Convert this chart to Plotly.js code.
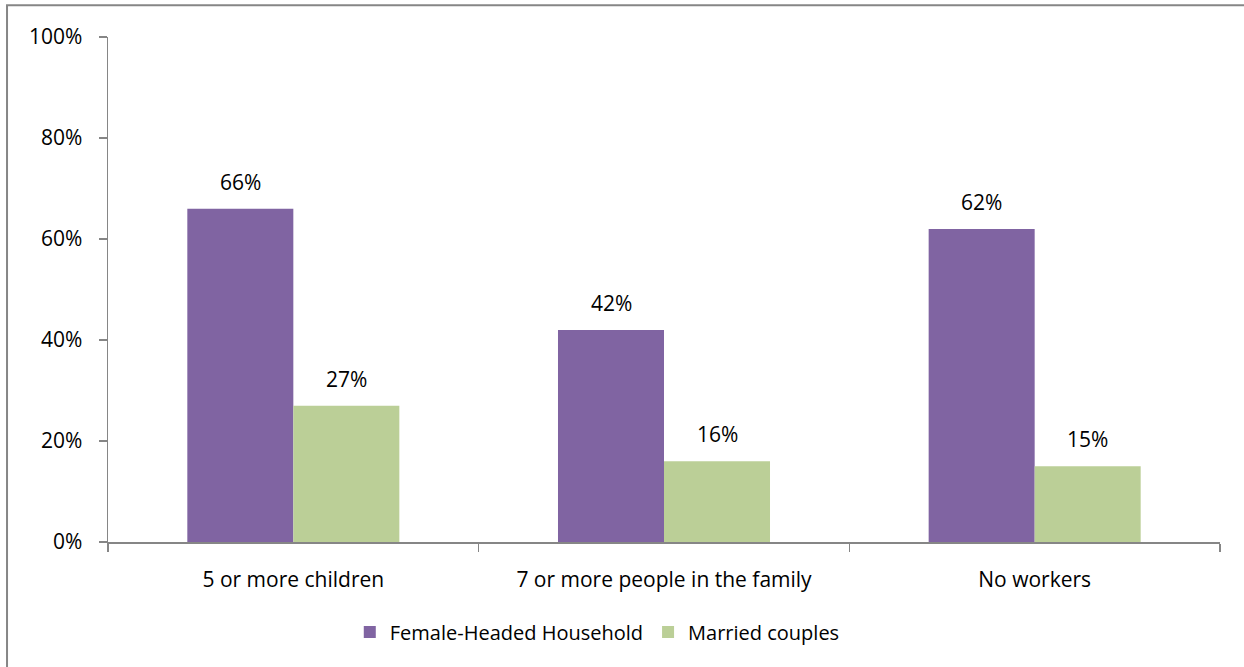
<!DOCTYPE html>
<html>
<head>
<meta charset="utf-8">
<script src="https://cdn.plot.ly/plotly-3.0.1.min.js"></script>
<style>html,body{margin:0;padding:0;background:#fff;}#chart{width:1244px;height:667px;}</style>
</head>
<body>
<div id="chart"></div>
<script>
const categories = ["5 or more children", "7 or more people in the family", "No workers"];
const femaleHeaded = [0.66, 0.42, 0.62];
const marriedCouples = [0.27, 0.16, 0.15];
const seriesNames = ["Female-Headed Household", "Married couples"];
const yTickVals = [0, 0.2, 0.4, 0.6, 0.8, 1.0];
const yTickText = ["0%", "20%", "40%", "60%", "80%", "100%"];

const FONT = "'Open Sans', Lato, sans-serif";
const colors = ["#8064A2", "#BBCF97"];

const traces = [
  {type: "bar", name: seriesNames[0], x: categories, y: femaleHeaded, marker: {color: colors[0]}, hoverinfo: "none"},
  {type: "bar", name: seriesNames[1], x: categories, y: marriedCouples, marker: {color: colors[1]}, hoverinfo: "none"}
];

const annotations = [];
[femaleHeaded, marriedCouples].forEach((vals, s) => {
  vals.forEach((v, i) => {
    annotations.push({
      x: categories[i], y: v, xref: "x", yref: "y",
      text: Math.round(v * 100) + "%",
      showarrow: false, xshift: s === 0 ? -53 : 53, yshift: 27,
      font: {family: FONT, size: 21, color: "#000"}
    });
  });
});

const layout = {
  width: 1244, height: 667,
  margin: {l: 108, r: 24, t: 37, b: 125, autoexpand: false},
  paper_bgcolor: "#fff", plot_bgcolor: "#fff",
  barmode: "group", bargap: 0.428, bargroupgap: 0,
  font: {family: FONT, size: 21, color: "#000"},
  xaxis: {
    showline: true, linecolor: "#868686", linewidth: 1.5,
    ticks: "outside", tickson: "boundaries", ticklen: 8, tickcolor: "#868686", tickwidth: 1.5,
    ticklabelstandoff: 18,
    showgrid: false, zeroline: false,
    tickfont: {family: FONT, size: 21, color: "#000"}
  },
  yaxis: {
    range: [0, 1], tickvals: yTickVals, ticktext: yTickText,
    showline: true, linecolor: "#868686", linewidth: 1.5,
    ticks: "outside", ticklen: 8, tickcolor: "#868686", tickwidth: 1.5,
    ticklabelstandoff: 12,
    showgrid: false, zeroline: false,
    tickfont: {family: FONT, size: 21, color: "#000"}
  },
  legend: {
    orientation: "h", x: 0.44, xanchor: "center", y: -0.178, yanchor: "middle",
    font: {family: FONT, size: 20, color: "#000"}, itemwidth: 30, tracegroupgap: 0
  },
  annotations: annotations,
  shapes: [{
    type: "rect", xref: "paper", yref: "paper",
    x0: -0.0908, x1: 1.3, y0: -0.6, y1: 1.063,
    line: {color: "#868686", width: 2}, fillcolor: "rgba(0,0,0,0)"
  }],
  showlegend: true
};

Plotly.newPlot("chart", traces, layout, {displayModeBar: false, staticPlot: true});
</script>
</body>
</html>
